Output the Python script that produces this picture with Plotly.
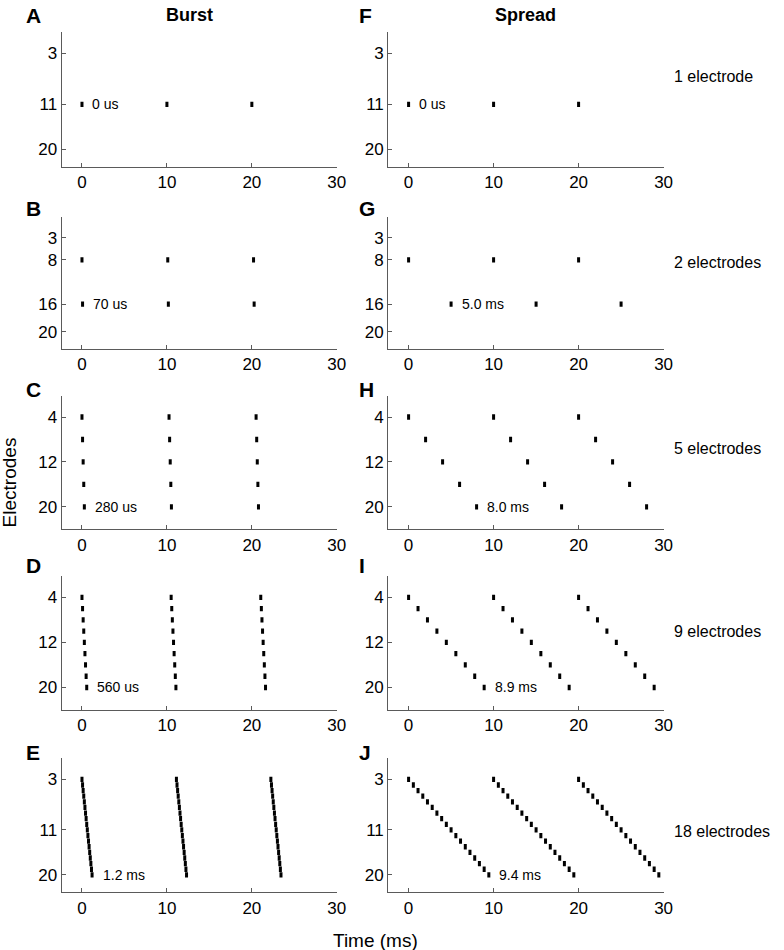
import plotly.graph_objects as go

# ---------------- data ----------------
# x axis (time, ms)
x_tickvals = [0, 10, 20, 30]
x_range = [-2.4, 30]

# Burst column: cycle onsets (ms), pulse offsets within a cycle (ms), electrode rows
burst_A_starts = [0, 10, 20]
burst_A_offsets = [0]
burst_A_rows = [12]

burst_B_starts = [0, 10.1, 20.2]
burst_B_offsets = [0, 0.07]
burst_B_rows = [7, 15]

burst_C_starts = [0, 10.25, 20.5]
burst_C_offsets = [0, 0.07, 0.14, 0.21, 0.28]
burst_C_rows = [4, 8, 12, 16, 20]

burst_D_starts = [0, 10.5, 21.05]
burst_D_offsets = [0, 0.07, 0.14, 0.21, 0.28, 0.35, 0.42, 0.49, 0.56]
burst_D_rows = [4, 6, 8, 10, 12, 14, 16, 18, 20]

burst_E_starts = [0, 11.12, 22.24]
burst_E_offsets = [0, 0.07, 0.14, 0.21, 0.28, 0.35, 0.42, 0.49, 0.56,
                   0.63, 0.70, 0.77, 0.84, 0.91, 0.98, 1.05, 1.12, 1.19]
burst_E_rows = [3, 4, 5, 6, 7, 8, 9, 10, 11, 12, 13, 14, 15, 16, 17, 18, 19, 20]

# Spread column
spread_F_starts = [0, 10, 20]
spread_F_offsets = [0]
spread_F_rows = [12]

spread_G_starts = [0, 10, 20]
spread_G_offsets = [0, 5.0]
spread_G_rows = [7, 15]

spread_H_starts = [0, 10, 20]
spread_H_offsets = [0, 2.0, 4.0, 6.0, 8.0]
spread_H_rows = [4, 8, 12, 16, 20]

spread_I_starts = [0, 10, 20]
spread_I_offsets = [0, 1.11, 2.22, 3.33, 4.44, 5.56, 6.67, 7.78, 8.89]
spread_I_rows = [4, 6, 8, 10, 12, 14, 16, 18, 20]

spread_J_starts = [0, 10, 20]
spread_J_offsets = [0, 0.56, 1.11, 1.67, 2.22, 2.78, 3.33, 3.89, 4.44,
                    5.00, 5.56, 6.11, 6.67, 7.22, 7.78, 8.33, 8.89, 9.44]
spread_J_rows = [3, 4, 5, 6, 7, 8, 9, 10, 11, 12, 13, 14, 15, 16, 17, 18, 19, 20]

# y tick positions and labels
yt_a_vals, yt_a_text = [3, 12, 20], ["3", "11", "20"]
yt_b_vals, yt_b_text = [3, 7, 15, 20], ["3", "8", "16", "20"]
yt_c_vals, yt_c_text = [4, 12, 20], ["4", "12", "20"]

duration_labels_burst = ["0 us", "70 us", "280 us", "560 us", "1.2 ms"]
duration_labels_spread = ["0 us", "5.0 ms", "8.0 ms", "8.9 ms", "9.4 ms"]
row_labels = ["1 electrode", "2 electrodes", "5 electrodes", "9 electrodes", "18 electrodes"]
letters_left = ["A", "B", "C", "D", "E"]
letters_right = ["F", "G", "H", "I", "J"]

# ---------------- layout ----------------
W, H = 784, 950
FONT = "Liberation Sans, Arial, Helvetica, sans-serif"
AXC = "#5a5a5a"

x_dom_px = [(62.3, 340.7), (392.7, 671.3)]
y_dom_px = [(32, 167), (216.7, 349), (395.7, 529.3), (576, 710), (758, 892.3)]

burst = [
    (burst_A_starts, burst_A_offsets, burst_A_rows),
    (burst_B_starts, burst_B_offsets, burst_B_rows),
    (burst_C_starts, burst_C_offsets, burst_C_rows),
    (burst_D_starts, burst_D_offsets, burst_D_rows),
    (burst_E_starts, burst_E_offsets, burst_E_rows),
]
spread = [
    (spread_F_starts, spread_F_offsets, spread_F_rows),
    (spread_G_starts, spread_G_offsets, spread_G_rows),
    (spread_H_starts, spread_H_offsets, spread_H_rows),
    (spread_I_starts, spread_I_offsets, spread_I_rows),
    (spread_J_starts, spread_J_offsets, spread_J_rows),
]
yticks = [(yt_a_vals, yt_a_text), (yt_b_vals, yt_b_text), (yt_c_vals, yt_c_text),
          (yt_c_vals, yt_c_text), (yt_a_vals, yt_a_text)]
yranges = [[23.1, -0.8], [23.1, -0.8], [24.0, 0.2], [24.0, 0.2], [23.1, -0.8]]

fig = go.Figure()
layout = dict(
    width=W, height=H, margin=dict(l=0, r=0, t=0, b=0),
    paper_bgcolor="white", plot_bgcolor="white", showlegend=False,
    font=dict(family=FONT, color="black"),
)
annotations = []

idx = 0
for col, (panels, dlabels, letters) in enumerate(
        [(burst, duration_labels_burst, letters_left),
         (spread, duration_labels_spread, letters_right)]):
    for row in range(5):
        idx += 1
        xa = "x" if idx == 1 else f"x{idx}"
        ya = "y" if idx == 1 else f"y{idx}"
        starts, offsets, rows = panels[row]
        xs, ys = [], []
        for s in starts:
            for o, r in zip(offsets, rows):
                xs.append(s + o)
                ys.append(r)
        fig.add_trace(go.Scatter(
            x=xs, y=ys, mode="markers", xaxis=xa, yaxis=ya,
            marker=dict(symbol="line-ns", size=3.8, color="black",
                        line=dict(width=3.0, color="black")),
            hoverinfo="skip"))
        x0, x1 = x_dom_px[col]
        t, b = y_dom_px[row]
        xkey = "xaxis" if idx == 1 else f"xaxis{idx}"
        ykey = "yaxis" if idx == 1 else f"yaxis{idx}"
        layout[xkey] = dict(
            domain=[x0 / W, x1 / W], anchor=ya, range=x_range, autorange=False,
            tickvals=x_tickvals, ticks="inside", ticklen=4, tickcolor=AXC,
            showline=True, linecolor=AXC, linewidth=1, showgrid=False, zeroline=False,
            tickfont=dict(size=17, family=FONT, color="black"), fixedrange=True)
        layout[ykey] = dict(
            domain=[1 - b / H, 1 - t / H], anchor=xa, range=yranges[row], autorange=False,
            tickvals=yticks[row][0], ticktext=yticks[row][1],
            ticks="inside", ticklen=4, tickcolor=AXC,
            showline=True, linecolor=AXC, linewidth=1, showgrid=False, zeroline=False,
            tickfont=dict(size=17, family=FONT, color="black"), fixedrange=True)
        # duration label next to the last pulse of the first cycle
        annotations.append(dict(
            x=starts[0] + offsets[-1] + 1.0, y=rows[-1], xref=xa, yref=ya,
            text=dlabels[row], showarrow=False, xanchor="left", yanchor="middle",
            font=dict(size=14, family=FONT, color="black")))

# panel letters
letter_cy = [15.8, 208.8, 389.5, 565.7, 752.5]
for row in range(5):
    for lx, lt in [(24, letters_left[row]), (361.5, letters_right[row])]:
        annotations.append(dict(
            x=lx / W, y=1 - letter_cy[row] / H, xref="paper", yref="paper",
            text=f"<b>{lt}</b>", showarrow=False, xanchor="left", yanchor="middle",
            font=dict(size=21, family=FONT, color="black")))

# column titles
annotations.append(dict(x=192 / W, y=1 - 15 / H, xref="paper", yref="paper",
                        text="<b>Burst</b>", showarrow=False, xanchor="center", yanchor="middle",
                        font=dict(size=18, family=FONT, color="black")))
annotations.append(dict(x=531.7 / W, y=1 - 15 / H, xref="paper", yref="paper",
                        text="<b>Spread</b>", showarrow=False, xanchor="center", yanchor="middle",
                        font=dict(size=18, family=FONT, color="black")))

# row labels on the right
row_label_cy = [76.7, 262.7, 448.3, 631.7, 831.7]
for row in range(5):
    annotations.append(dict(x=679.3 / W, y=1 - row_label_cy[row] / H, xref="paper", yref="paper",
                            text=row_labels[row], showarrow=False, xanchor="left", yanchor="middle",
                            font=dict(size=16, family=FONT, color="black")))

# axis titles
annotations.append(dict(x=10 / W, y=1 - 482.5 / H, xref="paper", yref="paper",
                        text="Electrodes", showarrow=False, textangle=-90,
                        xanchor="center", yanchor="middle",
                        font=dict(size=19, family=FONT, color="black")))
annotations.append(dict(x=380 / W, y=1 - 940 / H, xref="paper", yref="paper",
                        text="Time (ms)", showarrow=False,
                        xanchor="center", yanchor="middle",
                        font=dict(size=19, family=FONT, color="black")))

layout["annotations"] = annotations
fig.update_layout(**layout)
fig.write_html(
    "out.html",
    config={"displayModeBar": False},
    post_script="document.body.style.margin='0px';document.body.style.overflow='hidden';",
)
